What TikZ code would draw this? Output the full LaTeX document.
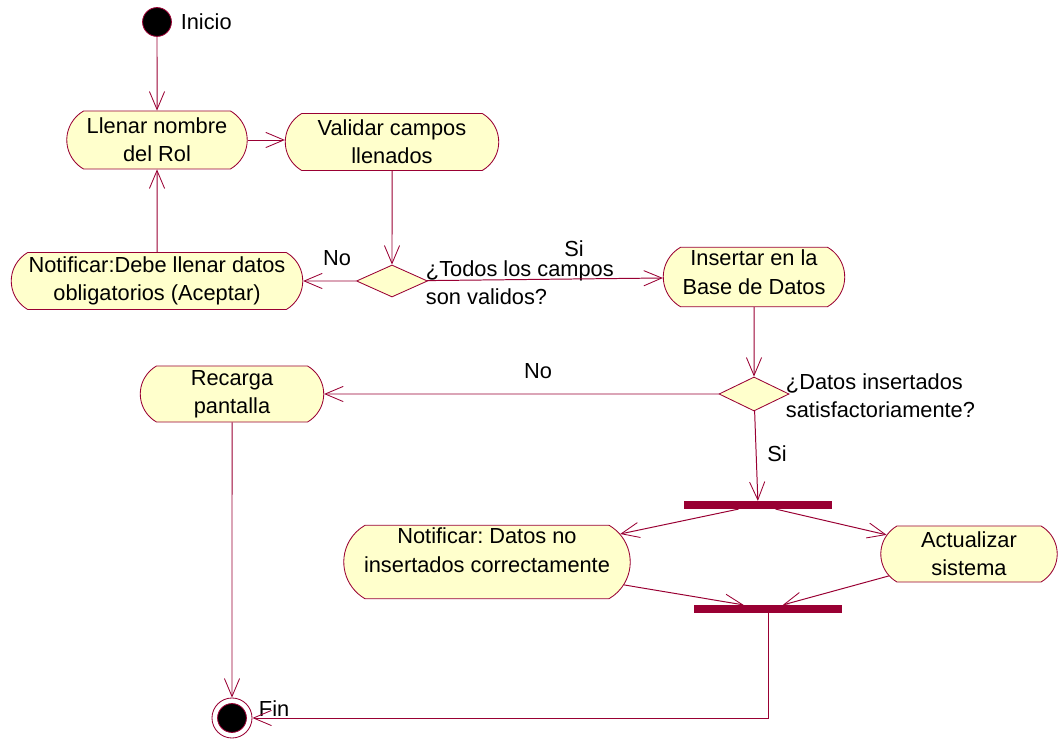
\documentclass[tikz,border=0pt]{standalone}
\usepackage{fontspec}
\setmainfont{Liberation Sans}
\frenchspacing
\usetikzlibrary{shapes.geometric, shapes.misc, arrows.meta, positioning}
\definecolor{umlred}{RGB}{153,0,51}
\definecolor{umlfill}{RGB}{255,255,204}
\tikzset{
  activity/.style={rounded rectangle, rounded rectangle arc length=120,
    draw=umlred, fill=umlfill, line width=0.6pt, align=center, inner sep=2pt},
  decision/.style={diamond, draw=umlred, fill=umlfill, line width=0.6pt,
    inner sep=0pt},
  syncbar/.style={rectangle, fill=umlred, inner sep=0pt, minimum width=3.7cm,
    minimum height=0.19cm},
  startnode/.style={circle, draw=umlred, fill=black, line width=0.6pt,
    minimum size=0.72cm, inner sep=0pt},
  endnode/.style={circle, draw=umlred, fill=white, line width=0.6pt,
    minimum size=1cm, inner sep=0pt},
  guard/.style={inner sep=1pt},
  arrow/.style={-{Straight Barb[length=0.45cm, width=0.38cm, line width=0.6pt]},
    line width=0.7pt, color=umlred},
}

\begin{document}
\begin{tikzpicture}[x=0.025cm, y=-0.025cm, font=\fontsize{15.5}{20}\selectfont]
  \useasboundingbox (0,0) rectangle (1060,740);

  \node[startnode] (start) at (157,22) {};
  \node[right=0.1cm of start] (inicio) {Inicio};
  \node[activity, minimum width=4.65cm, minimum height=1.45cm]
    (llenar) at (157,140) {Llenar nombre\\del Rol};
  \node[activity, minimum width=5.475cm, minimum height=1.425cm]
    (validar) at (392,142) {Validar campos\\llenados};
  \node[decision, minimum width=1.775cm, minimum height=0.8cm]
    (dec1) at (392,281) {};
  \node[anchor=west, align=left] (preg1) at (421,283) {¿Todos los campos\\son validos?};
  \node[activity, minimum width=7.425cm, minimum height=1.425cm]
    (notif1) at (157,281) {Notificar:Debe llenar datos\\obligatorios (Aceptar)};
  \node[activity, minimum width=4.675cm, minimum height=1.45cm, text depth=7pt]
    (insertar) at (754,277) {Insertar en la\\Base de Datos};
  \node[decision, minimum width=1.75cm, minimum height=0.85cm]
    (dec2) at (754,394) {};
  \node[anchor=west, align=left] (preg2) at (781,396) {¿Datos insertados\\satisfactoriamente?};
  \node[activity, minimum width=4.725cm, minimum height=1.4cm]
    (recarga) at (232,394) {Recarga\\pantalla};
  \node[syncbar] (fork) at (758,505) {};
  \node[activity, minimum width=7.3cm, minimum height=1.8cm, text depth=17pt]
    (notif2) at (487,562) {Notificar: Datos no\\insertados correctamente};
  \node[activity, minimum width=4.55cm, minimum height=1.4cm]
    (actualizar) at (969,554) {Actualizar\\sistema};
  \node[syncbar] (join) at (768,609) {};
  \node[endnode] (fin) at (232,718) {};
  \node[startnode] (finpunto) at (fin) {};
  \node[anchor=west] (fintxt) at (254,709) {Fin};

  % guards
  \node[guard] (no1) at (337,258) {No};
  \node[guard] (si1) at (574,249) {Si};
  \node[guard] (no2) at (538,371) {No};
  \node[guard] (si2) at (777,454) {Si};

  \draw[arrow] (start) -- (llenar);
  \draw[arrow] (llenar.east) -- (validar.west |- llenar.east);
  \draw[arrow] (validar) -- (dec1);
  \draw[arrow] (dec1) -- (notif1);
  \draw[arrow] (notif1) -- (llenar);
  \draw[arrow] (dec1) -- (insertar);
  \draw[arrow] (insertar) -- (dec2);
  \draw[arrow] (dec2) -- (recarga);
  \draw[arrow] (dec2) -- (fork);
  \draw[arrow] (fork) -- (notif2);
  \draw[arrow] (fork) -- (actualizar);
  \draw[arrow] (notif2) -- (join);
  \draw[arrow] (actualizar) -- (join);
  \draw[arrow] (join) |- (fin);
  \draw[arrow] (recarga) -- (fin);
\end{tikzpicture}
\end{document}
